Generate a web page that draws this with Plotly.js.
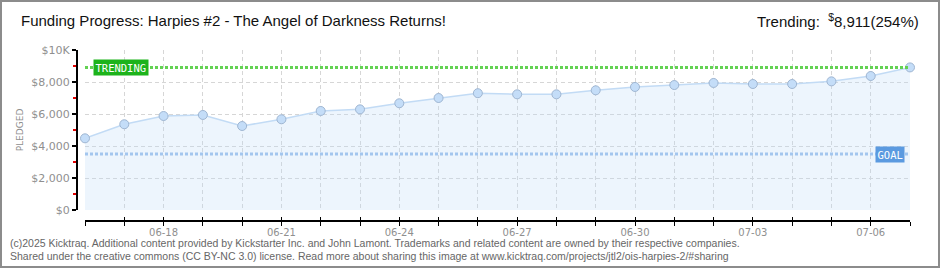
<!DOCTYPE html>
<html>
<head>
<meta charset="utf-8">
<script src="https://cdn.plot.ly/plotly-3.0.1.min.js"></script>
<style>
html,body{margin:0;padding:0;background:#fff;}
#wrap{position:relative;width:940px;height:270px;}
#chart{width:940px;height:270px;}
#frame{position:absolute;left:0;top:0;width:940px;height:268px;box-sizing:border-box;border:2px solid #8c8c8c;pointer-events:none;}
</style>
</head>
<body>
<div id="wrap"><div id="chart"></div><div id="frame"></div></div>
<script>
// ---- data ----
const dates = ["2025-06-16","2025-06-17","2025-06-18","2025-06-19","2025-06-20","2025-06-21","2025-06-22","2025-06-23","2025-06-24","2025-06-25","2025-06-26","2025-06-27","2025-06-28","2025-06-29","2025-06-30","2025-07-01","2025-07-02","2025-07-03","2025-07-04","2025-07-05","2025-07-06","2025-07-07"];
const pledged = [4480,5360,5875,5940,5250,5670,6190,6290,6670,7000,7300,7230,7230,7480,7690,7810,7940,7875,7875,8040,8375,8911];
const xTickLabels = ["","","06-18","","","06-21","","","06-24","","","06-27","","","06-30","","","07-03","","","07-06",""];
const yTickVals = [0,2000,4000,6000,8000,10000];
const yTickLabels = ["$0","$2,000","$4,000","$6,000","$8,000","$10K"];
const goal = 3500;
const trending = 8911;
const trendingPct = 254;
const titleText = "Funding Progress: Harpies #2 - The Angel of Darkness Returns!";
const footer1 = "(c)2025 Kicktraq. Additional content provided by Kickstarter Inc. and John Lamont. Trademarks and related content are owned by their respective companies.";
const footer2 = "Shared under the creative commons (CC BY-NC 3.0) license. Read more about sharing this image at www.kicktraq.com/projects/jtl2/ois-harpies-2/#sharing";

// ---- geometry helpers (pixel -> paper) ----
const W=940,H=270,ML=76,MR=30,MT=50,MB=50;
const PW=W-ML-MR, PH=H-MT-MB;
const px=x=>(x-ML)/PW, py=y=>(H-MB-y)/PH;

const first=dates[0], last=dates[dates.length-1];
const tickFont={family:"DejaVu Sans, sans-serif",size:10,color:"#8f8f8f"};

const traces=[
  {x:dates,y:pledged,type:"scatter",mode:"lines+markers",fill:"tozeroy",
   fillcolor:"rgba(190,218,248,0.28)",line:{color:"#c2dbf5",width:1.5},
   marker:{size:9,color:"#c4ddf8",line:{color:"#9fb6d2",width:1}},
   cliponaxis:false,hoverinfo:"skip",showlegend:false},
  {x:[first,last],y:[trending,trending],type:"scatter",mode:"lines",
   line:{color:"#63d253",width:3,dash:"3px,2px"},hoverinfo:"skip",showlegend:false,cliponaxis:false},
  {x:[first,last],y:[goal,goal],type:"scatter",mode:"lines",
   line:{color:"#a3c6ee",width:3,dash:"3px,2px"},hoverinfo:"skip",showlegend:false,cliponaxis:false},
  {x:[first],y:[0],xaxis:"x2",type:"scatter",mode:"markers",marker:{opacity:0},hoverinfo:"skip",showlegend:false}
];

const layout={
  width:W,height:H,margin:{l:ML,r:MR,t:MT,b:MB},
  paper_bgcolor:"#fff",plot_bgcolor:"rgba(0,0,0,0)",
  showlegend:false,
  xaxis:{type:"date",range:[first,last],domain:[px(85),1],anchor:"free",position:0,
    tickvals:dates,ticktext:xTickLabels,ticks:"outside",ticklen:4,tickcolor:"#000",tickwidth:1,
    ticklabelstandoff:-2,
    showline:true,linecolor:"#000",linewidth:1.5,
    showgrid:true,gridcolor:"#d6d6d6",griddash:"4px,3px",gridwidth:1,
    zeroline:false,tickfont:tickFont,fixedrange:true},
  xaxis2:{type:"date",range:[first,last],domain:[px(85),1],anchor:"free",position:0,overlaying:"x",
    tickvals:dates,ticktext:dates.map(()=>" "),ticks:"inside",ticklen:3,tickcolor:"#000",tickwidth:1,
    showline:false,showgrid:false,zeroline:false,showticklabels:false},
  yaxis:{range:[0,10000],domain:[py(210),1],anchor:"free",position:0,
    tickvals:yTickVals,ticktext:yTickLabels,ticks:"outside",ticklen:4,tickcolor:"#000",tickwidth:1.5,
    minor:{dtick:1000,ticks:"outside",ticklen:3,tickcolor:"#e00000",tickwidth:1.5,showgrid:false},
    showline:true,linecolor:"#000",linewidth:1.5,
    showgrid:true,gridcolor:"#d6d6d6",griddash:"4px,3px",gridwidth:1,zeroline:false,
    tickfont:{family:"DejaVu Sans, sans-serif",size:11,color:"#8f8f8f"},
    title:{text:"PLEDGED",font:{family:"DejaVu Sans, sans-serif",size:9,color:"#8f8f8f"},standoff:4},
    fixedrange:true},
  annotations:[
    {xref:"paper",yref:"paper",x:px(19),y:py(21),xanchor:"left",yanchor:"middle",showarrow:false,
     text:titleText,font:{family:"Liberation Sans, sans-serif",size:15,color:"#111"}},
    {xref:"paper",yref:"paper",x:px(921),y:py(21),xanchor:"right",yanchor:"middle",showarrow:false,
     text:"Trending:  <sup>$</sup>"+trending.toLocaleString("en-US")+"("+trendingPct+"%)",
     font:{family:"Liberation Sans, sans-serif",size:15,color:"#111"}},
    {xref:"paper",yref:"y",x:px(93),y:trending,xanchor:"left",yanchor:"middle",showarrow:false,
     text:"TRENDING",bgcolor:"#1db31b",borderpad:1.5,
     font:{family:"DejaVu Sans Mono, monospace",size:10.5,color:"#fff"}},
    {xref:"paper",yref:"y",x:px(905),y:goal,xanchor:"right",yanchor:"middle",showarrow:false,
     text:"GOAL",bgcolor:"#5b9ae0",borderpad:1.5,
     font:{family:"DejaVu Sans Mono, monospace",size:10.5,color:"#fff"}},
    {xref:"paper",yref:"paper",x:px(8),y:py(243),xanchor:"left",yanchor:"middle",showarrow:false,
     text:footer1,font:{family:"Liberation Sans, sans-serif",size:10.5,color:"#666"}},
    {xref:"paper",yref:"paper",x:px(8),y:py(256),xanchor:"left",yanchor:"middle",showarrow:false,
     text:footer2,font:{family:"Liberation Sans, sans-serif",size:10.5,color:"#666"}}
  ]
};
Plotly.newPlot("chart",traces,layout,{staticPlot:true,displayModeBar:false});
</script>
</body>
</html>
